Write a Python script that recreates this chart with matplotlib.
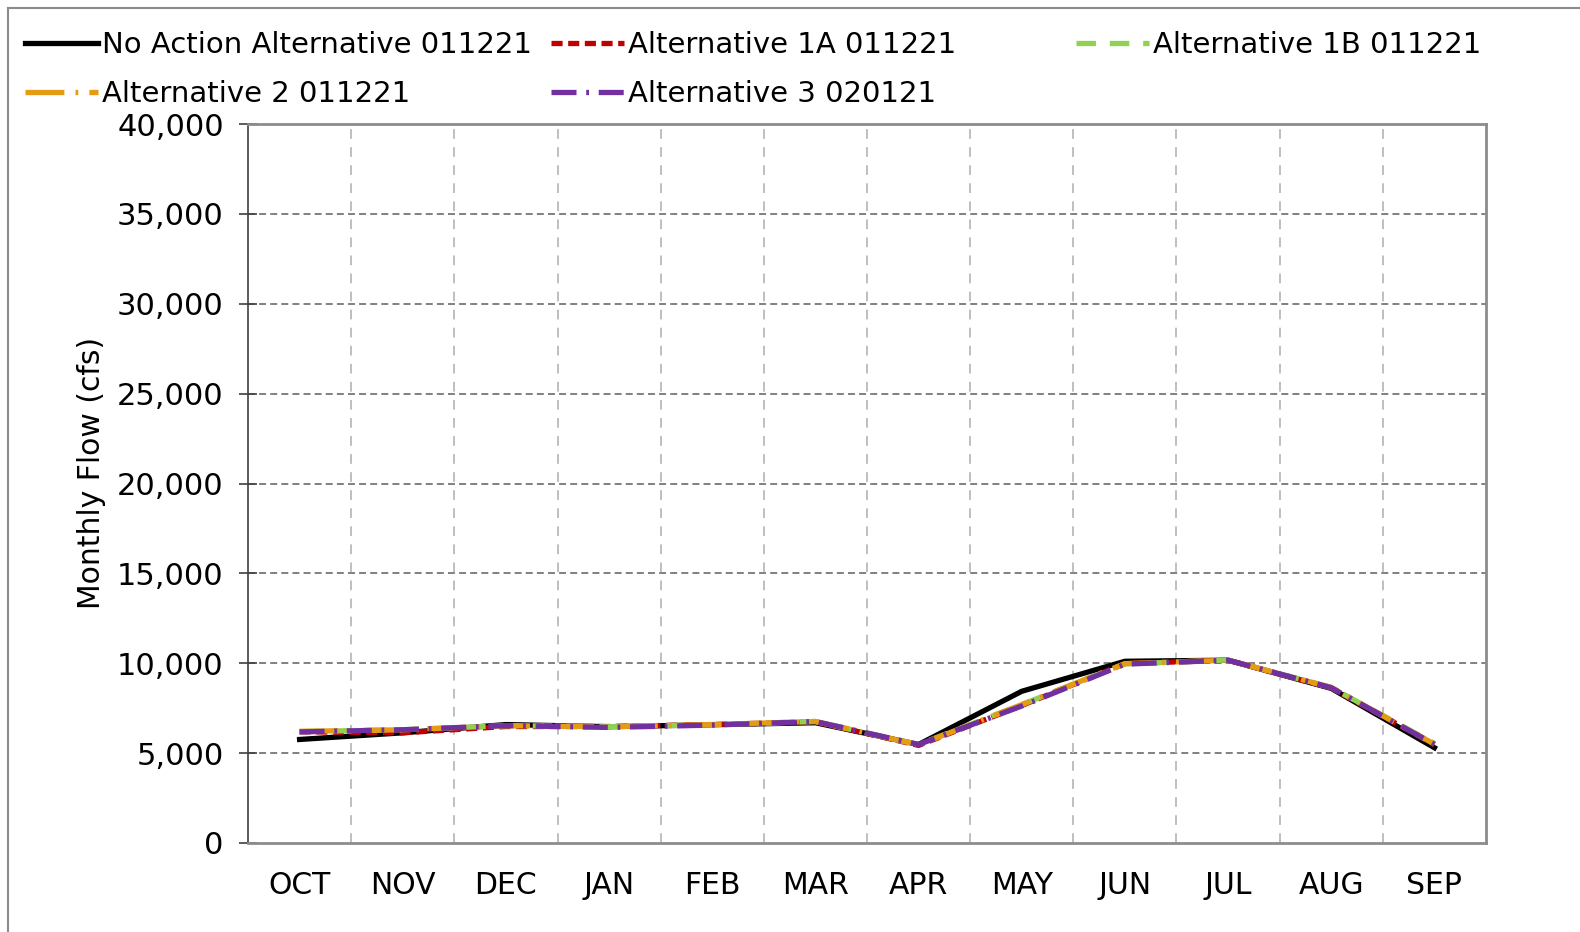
"""
Monthly flow comparison of the alternatives, Excel-style line chart.
"""

import matplotlib.pyplot as plt
from matplotlib.lines import Line2D
from matplotlib.ticker import FuncFormatter

# ── data ───────────────────────────────────────────────────────────────────
MONTHS = ['OCT', 'NOV', 'DEC', 'JAN', 'FEB', 'MAR',
          'APR', 'MAY', 'JUN', 'JUL', 'AUG', 'SEP']

no_action = [5760, 6130, 6590, 6470, 6580, 6690, 5480, 8440, 10110, 10170, 8600, 5300]
alt_1a    = [6190, 6130, 6480, 6480, 6590, 6740, 5430, 7650, 9980, 10170, 8620, 5480]
alt_1b    = [6200, 6300, 6530, 6470, 6580, 6760, 5480, 7700, 9960, 10180, 8650, 5540]
alt_2     = [6210, 6300, 6530, 6470, 6590, 6760, 5460, 7700, 9980, 10170, 8660, 5500]
alt_3     = [6180, 6300, 6530, 6430, 6560, 6760, 5480, 7620, 9950, 10170, 8640, 5490]

labels = ['No Action Alternative 011221', 'Alternative 1A 011221',
          'Alternative 1B 011221', 'Alternative 2 011221', 'Alternative 3 020121']

Y_TICKS = [0, 5000, 10000, 15000, 20000, 25000, 30000, 35000, 40000]

# ── styling ────────────────────────────────────────────────────────────────
plt.rcParams['font.family'] = ['DejaVu Sans']
plt.rcParams['lines.scale_dashes'] = False

styles = [
    dict(color='#000000', linestyle='-'),
    dict(color='#C00000', linestyle=(0, (8, 4))),
    dict(color='#92D050', linestyle=(0, (14, 10))),
    dict(color='#E69B14', linestyle=(0, (28, 8, 2, 8))),
    dict(color='#7030A0', linestyle=(0, (18, 7, 2, 7))),
]
LW = 3.8

fig = plt.figure(figsize=(15.8, 9.32), dpi=100)
ax = fig.add_axes([248 / 1580, 89 / 932, 1238 / 1580, 719 / 932])

x = list(range(len(MONTHS)))
series = [no_action, alt_1a, alt_1b, alt_2, alt_3]
handles = []
for vals, st, lab in zip(series, styles, labels):
    ln, = ax.plot(x, vals, lw=LW, label=lab, **st)
    handles.append(ln)

ax.set_xlim(-0.5, len(MONTHS) - 0.5)
ax.set_ylim(0, 40000)
ax.set_yticks(Y_TICKS)
ax.yaxis.set_major_formatter(FuncFormatter(lambda v, p: f'{int(v):,}'))
ax.set_xticks(x)
ax.set_xticklabels(MONTHS)
ax.tick_params(axis='x', length=0, labelsize=21.5, pad=20)
ax.tick_params(axis='y', direction='inout', length=13, width=1.2,
               color='#404040', labelsize=22, pad=11)

# grid: horizontal at major y, vertical at category boundaries
for yv in Y_TICKS[1:-1]:
    ax.axhline(yv, color='#808080', lw=1.4, linestyle=(0, (5, 3)), zorder=0.5)
for xv in range(len(MONTHS) - 1):
    ax.axvline(xv + 0.5, color='#BFBFBF', lw=1.4, linestyle=(0, (7, 6)), zorder=0.5)

for side in ('top', 'right', 'bottom'):
    ax.spines[side].set_color('#8C8C8C')
    ax.spines[side].set_linewidth(2)
ax.spines['left'].set_color('#404040')
ax.spines['left'].set_linewidth(1.2)

ax.set_ylabel('Monthly Flow (cfs)', fontsize=21.5)
ax.yaxis.set_label_coords(-0.115, 0.515)

# legend laid out as three columns, like the Excel original
cols = [([0, 3], 25), ([1, 4], 551), ([2], 1076)]
for idx, xpix in cols:
    leg = fig.legend([handles[i] for i in idx], [labels[i] for i in idx],
                     loc='upper left', bbox_to_anchor=(xpix / 1580, 1 - 31 / 932),
                     frameon=False, fontsize=21, handlelength=2.5,
                     handletextpad=0.15, labelspacing=0.72,
                     borderpad=0, borderaxespad=0)

# outer chart border (top and left visible)
fig.add_artist(Line2D([8 / 1580, 1], [1 - 8 / 932, 1 - 8 / 932],
                      color='#8C8C8C', lw=1.5))
fig.add_artist(Line2D([8 / 1580, 8 / 1580], [0, 1 - 8 / 932],
                      color='#8C8C8C', lw=1.5))

fig.savefig('out.png', dpi=100)
